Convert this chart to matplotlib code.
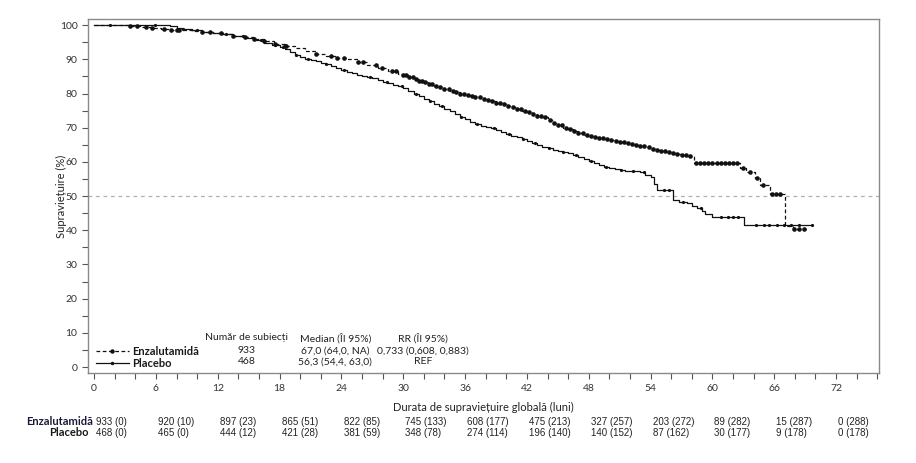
import numpy as np
import matplotlib
matplotlib.use("Agg")
from matplotlib import pyplot as plt
from matplotlib.lines import Line2D
import matplotlib.transforms as mtransforms

plt.rcParams['font.family'] = ['Lato', 'DejaVu Sans']

# Kaplan-Meier step points (months, % survival)
enz_t = [0, 2, 3.5, 4.5, 5.5, 6.5, 7.5, 8.5, 9.5, 10.5, 11.5, 12.5, 13.5, 14.5, 15.5, 16.5,
         17.5, 18.5, 19.5, 20.5, 21.5, 22.5, 23.5, 24.5, 25.5, 26.5, 27.5, 28.5, 29.5,
         30, 30.5, 31, 31.5, 32, 32.5, 33, 33.5, 34, 34.5, 35, 35.5, 36, 36.5, 37, 37.5,
         38, 38.5, 39, 39.5, 40, 40.5, 41, 41.5, 42, 42.5, 43, 43.5, 44, 44.5, 45, 45.5,
         46, 46.5, 47, 47.5, 48, 48.5, 49, 49.5, 50, 50.5, 51, 51.5, 52, 52.5, 53, 53.5,
         54, 54.5, 55, 55.5, 56, 56.5, 57, 57.5, 58.2, 62.7, 63.3, 64.1, 64.6, 65.6, 67.0,
         67.8, 69.3]
enz_s = [100, 99.9, 99.7, 99.4, 99.2, 98.9, 98.7, 98.5, 98.2, 98.0, 97.7, 97.3, 96.9, 96.5, 95.9, 95.3,
         94.6, 94.0, 93.2, 92.5, 91.7, 91.1, 90.5, 90.0, 89.2, 88.4, 87.5, 86.6, 85.8,
         85.3, 84.9, 84.3, 83.8, 83.3, 82.8, 82.3, 81.8, 81.2, 80.6, 80.3, 79.9, 79.6, 79.2, 78.9, 78.5,
         78.1, 77.7, 77.3, 76.8, 76.4, 76.0, 75.5, 75.0, 74.5, 74.0, 73.5, 73.0, 72.2, 71.5, 70.7, 70.0,
         69.5, 69.0, 68.5, 68.0, 67.6, 67.3, 67.0, 66.8, 66.5, 66.2, 65.9, 65.6, 65.2, 64.9, 64.6, 64.3,
         63.9, 63.5, 63.1, 62.8, 62.5, 62.2, 61.9, 61.6, 59.6, 58.3, 57.0, 55.3, 53.3, 50.6, 41.3,
         40.4, 40.4]

pla_t = [0, 7.4, 8, 8.5, 9.5, 10.5, 11.5, 12.5, 13.5, 14.5, 15.5, 16.5, 17.3, 18, 18.5, 19,
         19.5, 20, 20.5, 21, 21.5, 22, 22.5, 23, 23.5, 24, 24.5, 25, 25.5, 26, 26.5, 27, 27.5,
         28, 28.5, 29, 29.5, 30, 30.5, 31, 31.5, 32, 32.5, 33, 33.5, 34, 34.5, 35, 35.5, 36,
         36.5, 37, 37.5, 38, 38.5, 39, 39.5, 40, 40.5, 41, 41.5, 42, 42.5, 43, 43.5, 44, 44.5,
         45, 45.5, 46, 46.5, 47, 47.5, 48, 48.5, 49, 49.5, 50, 50.5, 51, 51.5, 52, 53, 53.5,
         54, 54.3, 54.6, 56.2, 56.8, 57.5, 58, 58.5, 59, 59.3, 60, 63.1, 69.7]
pla_s = [100, 99.7, 99.2, 98.8, 98.5, 98.1, 97.8, 97.3, 96.8, 96.3, 95.7, 94.9, 94.2, 93.7, 93.0, 92.2,
         91.4, 90.6, 90.2, 89.8, 89.4, 89.0, 88.6, 88.1, 87.5, 86.9, 86.3, 85.9, 85.5, 85.1, 84.7, 84.4, 84.0,
         83.5, 83.0, 82.5, 82.1, 81.5, 80.8, 80.0, 79.3, 78.5, 77.8, 77.0, 76.3, 75.5, 74.8, 74.0, 73.2, 72.4,
         71.6, 71.0, 70.4, 70.1, 69.8, 69.2, 68.7, 68.1, 67.6, 67.2, 66.7, 66.1, 65.5, 64.9, 64.3, 64.0, 63.6,
         63.3, 63.0, 62.5, 62.0, 61.4, 60.8, 60.2, 59.6, 59.1, 58.6, 58.3, 58.0, 57.7, 57.4, 57.2, 57.0, 56.3,
         55.6, 53.5, 51.8, 48.8, 48.3, 47.9, 47.2, 46.4, 45.6, 44.9, 44.0, 41.6, 41.6]

# censoring times (months)
enz_cens = [3.5, 4.2, 5.0, 5.6, 6.8, 7.5, 8.0, 8.2, 10.5, 11.2, 12.3, 13.5, 14.6, 15.5, 16.5,
            17.6, 18.5, 18.6, 21.5, 23.0, 23.6, 24.2, 25.6, 26.1, 27.4, 27.9, 28.9, 29.3,
            30.0, 30.3, 30.6, 30.9, 31.2, 31.5, 31.8, 32.1, 32.5, 32.8, 33.2, 33.6, 34.0, 34.4,
            34.8, 35.1, 35.5, 35.9, 36.3, 36.7, 37.0, 37.4, 37.8, 38.2, 38.6, 39.0, 39.4, 39.8,
            40.2, 40.6, 41.0, 41.4, 41.8, 42.2, 42.6, 43.0, 43.4, 43.8, 44.2, 44.6, 45.0, 45.4,
            45.8, 46.2, 46.6, 47.0, 47.4, 47.8, 48.2, 48.6, 49.0, 49.4, 49.8, 50.2, 50.6, 51.0,
            51.4, 51.8, 52.2, 52.6, 53.0, 53.4, 53.8, 54.2, 54.6, 55.0, 55.4, 55.8, 56.2, 56.6,
            57.0, 57.4, 57.8, 58.4, 58.8, 59.2, 59.6, 60.0, 60.4, 60.8, 61.2, 61.6, 62.0, 62.4,
            63.0, 63.6, 64.3, 64.9, 65.8, 66.2, 66.6, 67.9, 68.4, 68.9]
pla_cens = [1.5, 5.9, 8.6, 10.0, 12.8, 14.4, 16.2, 17.6, 18.3, 19.6, 20.8, 22.5, 24.2, 26.8,
            28.4, 29.9, 31.2, 32.6, 33.8, 35.6, 37.2, 38.8, 40.3, 41.6, 42.8, 44.1, 45.5, 46.8,
            48.2, 49.7, 51.1, 52.3, 53.4, 55.3, 55.8, 57.1, 58.9, 60.8, 61.5, 62.0, 62.5, 64.2,
            65.0, 65.5, 66.3, 66.9, 67.6, 68.4, 69.7]

# number at risk (events)
risk_times = [0, 6, 12, 18, 24, 30, 36, 42, 48, 54, 60, 66, 72]
enz_risk = ["933 (0)", "920 (10)", "897 (23)", "865 (51)", "822 (85)", "745 (133)", "608 (177)",
            "475 (213)", "327 (257)", "203 (272)", "89 (282)", "15 (287)", "0 (288)"]
pla_risk = ["468 (0)", "465 (0)", "444 (12)", "421 (28)", "381 (59)", "348 (78)", "274 (114)",
            "196 (140)", "140 (152)", "87 (162)", "30 (177)", "9 (178)", "0 (178)"]

groups = ["Enzalutamidă", "Placebo"]
n_subj = ["933", "468"]
medians = ["67,0 (64,0, NA)", "56,3 (54,4, 63,0)"]
hrs = ["0,733 (0,608, 0,883)", "REF"]


def step_value(times, surv, x):
    idx = np.searchsorted(times, x, side='right') - 1
    return np.asarray(surv)[idx]


fig = plt.figure(figsize=(9.16, 4.63), dpi=100)
ax = fig.add_axes([0.096, 0.194, 0.864, 0.765])

ink = '#111111'
ax.axhline(50, color='#b0b0b0', lw=0.9, ls=(0, (3, 3)), zorder=1)

ax.step(pla_t, pla_s, where='post', color=ink, lw=0.9, zorder=3)
ax.plot(pla_cens, step_value(pla_t, pla_s, pla_cens), 'o', color=ink, ms=2.3, mew=0, zorder=4)
ax.step(enz_t, enz_s, where='post', color=ink, lw=0.9, ls=(0, (3, 2)), zorder=3)
ax.plot(enz_cens, step_value(enz_t, enz_s, enz_cens), 'o', color=ink, ms=3.3, mew=0, zorder=4)

ax.set_xlim(-0.6, 76.2)
ax.set_ylim(-1.8, 101.8)
ax.set_xticks(risk_times)
ax.set_xticks(range(0, 77, 2), minor=True)
ax.set_yticks(range(0, 101, 10))
ax.set_yticks(range(0, 101, 5), minor=True)
ax.tick_params(which='both', direction='out', color='#555555', width=0.8, labelsize=7.5,
               labelcolor='#333333', length=4)
for sp in ax.spines.values():
    sp.set_color('#8a8a8a')
    sp.set_linewidth(1.0)

ax.set_xlabel("Durata de supraviețuire globală (luni)", fontsize=8, color='#222222', labelpad=7)
ax.set_ylabel("Supraviețuire (%)", fontsize=8, color='#222222')
ax.yaxis.set_label_coords(-0.027, 0.5)

# legend with summary table
handles = [Line2D([], [], color=ink, lw=0.9, ls=(0, (3, 2)), marker='o', ms=3.2, mew=0),
           Line2D([], [], color=ink, lw=0.9, marker='o', ms=2.5, mew=0)]
leg = ax.legend(handles, groups, loc='lower left', bbox_to_anchor=(-0.002, -0.016), frameon=False,
                handlelength=2.9, handletextpad=0.3, labelspacing=0.1, numpoints=1,
                prop={'size': 8, 'weight': 'bold'})
for txt in leg.get_texts():
    txt.set_color('#1a1a1a')

hdr_y, row_y = 8.5, [4.7, 1.5]
cols = [14.8, 23.4, 31.9]
ax.text(cols[0], hdr_y, "Număr de subiecți", ha='center', va='center', fontsize=7.5, color='#222222')
ax.text(cols[1], hdr_y, "Median (ÎI 95%)", ha='center', va='center', fontsize=7.5, color='#222222')
ax.text(cols[2], hdr_y, "RR (ÎI 95%)", ha='center', va='center', fontsize=7.5, color='#222222')
for i in range(2):
    ax.text(cols[0], row_y[i], n_subj[i], ha='center', va='center', fontsize=7.5, color='#222222')
    ax.text(cols[1], row_y[i], medians[i], ha='center', va='center', fontsize=7.5, color='#222222')
    ax.text(cols[2], row_y[i], hrs[i], ha='center', va='center', fontsize=7.5, color='#222222')

# risk table under the axis
trans = mtransforms.blended_transform_factory(ax.transData, fig.transFigure)
narrow = ['Liberation Sans Narrow', 'Liberation Sans', 'DejaVu Sans']
for t, a, b in zip(risk_times, enz_risk, pla_risk):
    ax.text(t + 0.2, 0.0886, a, transform=trans, ha='left', va='center', fontsize=7,
            family=narrow, color='#222222', clip_on=False)
    ax.text(t + 0.2, 0.0648, b, transform=trans, ha='left', va='center', fontsize=7,
            family=narrow, color='#222222', clip_on=False)
fig.text(93 / 916, 0.0886, groups[0], ha='right', va='center', fontsize=8, weight='bold', color='#1a1a3a')
fig.text(89 / 916, 0.0648, groups[1], ha='right', va='center', fontsize=8, weight='bold', color='#1a1a1a')

fig.savefig("out.png", dpi=100)
